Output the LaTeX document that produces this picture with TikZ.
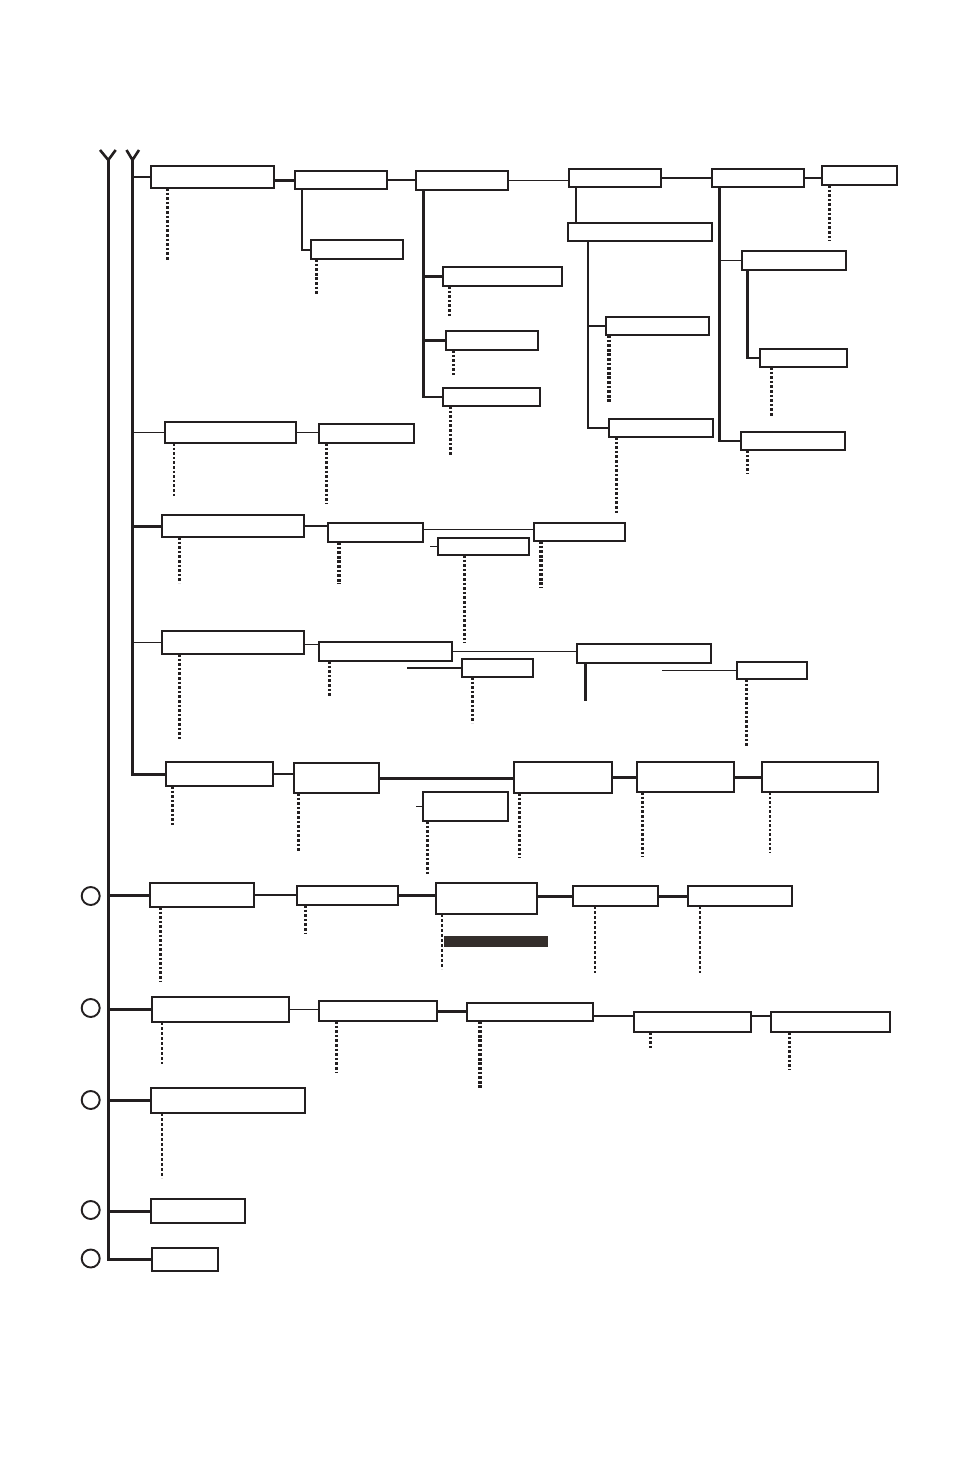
\documentclass[tikz,border=0pt]{standalone}
\usepackage{xcolor}
\usepackage{tikz}
\usetikzlibrary{positioning}
\definecolor{ink}{RGB}{35,31,32}
\definecolor{slabgray}{RGB}{52,46,43}
\tikzset
{
  box/.style   = {rectangle, draw=ink, fill=white, line width=2.2pt, inner sep=0pt, outer sep=0pt},
  slab/.style  = {rectangle, fill=slabgray, inner sep=0pt, outer sep=0pt},
  ring/.style  = {circle, draw=ink, line width=1.9pt, minimum size=18pt, inner sep=0pt},
  link/.style  = {draw=ink, line width=1.7pt},
  blink/.style = {draw=ink, line width=3pt},
  dots/.style  = {draw=ink, line width=2.6pt, dash pattern=on 2.6pt off 2pt},
  bdots/.style = {draw=ink, line width=3.2pt, dash pattern=on 2.8pt off 1.8pt},
  fdots/.style = {draw=ink, line width=2pt, dash pattern=on 2.6pt off 2.4pt}
}
% \nbox{name}{x1}{y1}{x2}{y2}
\newcommand{\nbox}[5]{\node[box, minimum width=#4-#2, minimum height=#5-#3] (#1) at ({(#2+#4)/2},{(#3+#5)/2}) {};}

\begin{document}
\begin{tikzpicture}[x=1pt,y=-1pt]
\fill[white] (0,0) rectangle (954,1475);
\useasboundingbox (0,0) rectangle (954,1475);

\coordinate (s1) at (108.3,160);
\coordinate (s2) at (132.5,160);

% first level
\nbox{A1}{151}{166}{274}{188}
\nbox{A2}{295}{171}{387}{189}
\nbox{A3}{311}{240}{403}{259}
\nbox{B1}{416}{171}{508}{190}
\nbox{B2}{443}{267}{562}{286}
\nbox{B3}{446}{331}{538}{350}
\nbox{B4}{443}{388}{540}{406}
\nbox{C1}{569}{169}{661}{187}
\nbox{C2}{568}{223}{712}{241}
\nbox{C3}{606}{317}{709}{335}
\nbox{C4}{609}{419}{713}{437}
\nbox{D1}{712}{169}{804}{187}
\nbox{D2}{742}{251}{846}{270}
\nbox{D3}{760}{349}{847}{367}
\nbox{D4}{741}{432}{845}{450}
\nbox{E1}{822}{166}{897}{185}
\nbox{R2a}{165}{422}{296}{443}
\nbox{R2b}{319}{424}{414}{443}
\nbox{R3a}{162}{515}{304}{537}
\nbox{R3b}{328}{523}{423}{542}
\nbox{R3c}{438}{538}{529}{555}
\nbox{R3d}{534}{523}{625}{541}
\nbox{R4a}{162}{631}{304}{654}
\nbox{R4b}{319}{642}{452}{661}
\nbox{R4c}{462}{659}{533}{677}
\nbox{R4d}{577}{644}{711}{663}
\nbox{R4e}{737}{662}{807}{679}
\nbox{R5a}{166}{762}{273}{786}
\nbox{R5b}{294}{763}{379}{793}
\nbox{R5c}{423}{792}{508}{821}
\nbox{R5d}{514}{762}{612}{793}
\nbox{R5e}{637}{762}{734}{792}
\nbox{R5f}{762}{762}{878}{792}

% second level
\nbox{R6a}{150}{883}{254}{907}
\nbox{R6b}{297}{886}{398}{905}
\nbox{R6c}{436}{883}{537}{914}
\nbox{R6d}{573}{886}{658}{906}
\nbox{R6e}{688}{886}{792}{906}
\node[slab, minimum width=103.4, minimum height=10.4] (R6x) at (495.8,941.5) {};
\nbox{R7a}{152}{997}{289}{1022}
\nbox{R7b}{319}{1001}{437}{1021}
\nbox{R7c}{467}{1003}{593}{1021}
\nbox{R7d}{634}{1012}{751}{1032}
\nbox{R7e}{771}{1012}{890}{1032}
\nbox{R8a}{151}{1088}{305}{1113}
\nbox{R9a}{151}{1199}{245}{1223}
\nbox{R10a}{152}{1248}{218}{1271}

\foreach \n/\y in {c6/896, c7/1008, c8/1100, c9/1210, c10/1258.5}
  \node[ring] (\n) at (90.7,\y) {};

% spines
\draw[blink, line width=2.6pt] (100,150) -- (s1) -- (115.7,150);
\draw[blink, line width=2.6pt] (126.5,150) -- (s2) -- (139,150);
\draw[blink] (s1) |- (R10a.west);
\draw[blink] (s2) |- (R5a.west);
\draw[link]  (A1.west) -- (A1.west -| s2);
\draw[link]  (R2a.west) -- (R2a.west -| s2);
\draw[blink] (R3a.west) -- (R3a.west -| s2);
\draw[link]  (R4a.west) -- (R4a.west -| s2);
\draw[blink] (R6a.west) -- (R6a.west -| s1);
\draw[blink] (R7a.west) -- (R7a.west -| s1);
\draw[blink] (R8a.west) -- (R8a.west -| s1);
\draw[blink] (R9a.west) -- (R9a.west -| s1);

% top row
\draw[blink] (A1.east |- A2.west) -- (A2.west);
\draw[link] (A2.east) -- (A2.east -| B1.west);
\draw[link, line width=2pt] ([xshift=6.7pt]A2.south west) |- (A3.west);
\draw[link] (B1.east) -- (B1.east -| C1.west);
\coordinate (b1t) at ([xshift=7.3pt]B1.south west);
\draw[blink, line width=2.6pt] (b1t) |- (B4.west);
\draw[blink] (b1t |- B2.west) -- (B2.west);
\draw[blink] (b1t |- B3.west) -- (B3.west);
\draw[link] (C1.east) -- (C1.east -| D1.west);
\coordinate (c1t) at ([xshift=6.7pt]C1.south west);
\draw[link] (c1t) -- (c1t |- C2.north);
\coordinate (c2t) at ([xshift=19.7pt]C2.south west);
\draw[link, line width=2pt] (c2t) |- (C4.west);
\draw[link] (c2t |- C3.west) -- (C3.west);
\draw[link] (D1.east) -- (D1.east -| E1.west);
\coordinate (d1t) at ([xshift=7.3pt]D1.south west);
\draw[blink, line width=2.6pt] (d1t) |- (D4.west);
\draw[link] (d1t |- D2.west) -- (D2.west);
\coordinate (d2t) at ([xshift=5.7pt]D2.south west);
\draw[blink, line width=2.6pt] (d2t) |- (D3.west);

% rows
\draw[link] (R2a.east) -- (R2a.east -| R2b.west);
\draw[link] (R3a.east) -- (R3a.east -| R3b.west);
\draw[link] ([yshift=3pt]R3b.east) -- ([yshift=3pt]R3b.east -| R3d.west);
\draw[link] (R3c.west) -- ++(-8,0);
\draw[link] ([yshift=-2pt]R4a.east) -- ([yshift=-2pt]R4a.east -| R4b.west);
\draw[link] (R4b.east) -- (R4b.east -| R4d.west);
\draw[link] (R4c.west) -- ++(-55,0);
\draw[blink] ([xshift=8.6pt]R4d.south west) -- ++(0,38);
\draw[link] (R4e.west) -- ++(-75,0);
\draw[link] (R5a.east) -- (R5a.east -| R5b.west);
\draw[blink] (R5b.east) -- (R5b.east -| R5d.west);
\draw[blink] (R5d.east) -- (R5d.east -| R5e.west);
\draw[blink] (R5e.east) -- (R5e.east -| R5f.west);
\draw[link] (R5c.west) -- ++(-7,0);
\draw[link] (R6a.east) -- (R6a.east -| R6b.west);
\draw[blink] (R6b.east) -- (R6b.east -| R6c.west);
\draw[blink] (R6c.east |- R6d.west) -- (R6d.west);
\draw[blink] (R6d.east) -- (R6d.east -| R6e.west);
\draw[link] (R7a.east) -- (R7a.east -| R7b.west);
\draw[blink] (R7b.east) -- (R7b.east -| R7c.west);
\draw[link] ([yshift=-3.7pt]R7c.east) -- ([yshift=-3.7pt]R7c.east -| R7d.west);
\draw[link] ([yshift=6.3pt]R7d.east) -- ([yshift=6.3pt]R7d.east -| R7e.west);

% dotted leaders
\foreach \n/\dx/\len in {A1/16.3/72, B2/6.3/32, B3/7.3/25, B4/7.3/49, C4/7.7/78, D3/11.7/49,
    D4/6.7/24, E1/7.3/56, R2a/9/55, R2b/7.3/61, R3a/17.3/46, R3c/26.3/88, R4a/17.3/85,
    R4b/10.3/36, R4c/10.3/46, R4e/9.3/68, R5a/6.5/41, R5b/4.5/59, R5c/4.5/55, R5d/5.5/65,
    R5e/5.5/65, R5f/8/61, R6a/10.7/74, R6b/8.6/28, R7b/17.3/51, R7d/16.4/16, R7e/18.7/38}
  \draw[dots] ([xshift=\dx pt]\n.south west) -- ++(0,\len);
\foreach \n/\dx/\len in {A3/5.7/35, C3/3/68, R3b/11/42, R3d/7/47, R7c/13/68}
  \draw[bdots] ([xshift=\dx pt]\n.south west) -- ++(0,\len);
\foreach \n/\dx/\len in {R6c/5.8/55, R6d/22.3/67, R6e/11.9/67, R7a/9.8/42, R8a/10.8/65}
  \draw[fdots] ([xshift=\dx pt]\n.south west) -- ++(0,\len);
\end{tikzpicture}
\end{document}
